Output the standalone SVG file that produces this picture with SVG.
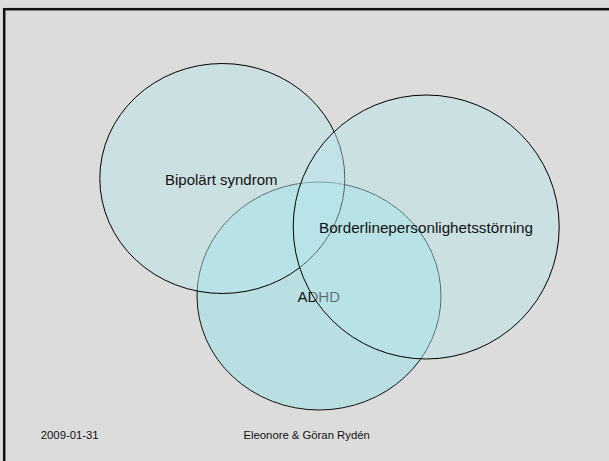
<svg xmlns="http://www.w3.org/2000/svg" width="609" height="461" viewBox="0 0 609 461">
<style>
  .lbl { font-family: "Liberation Sans", Arial, sans-serif; font-size: 15px; fill: #111; }
  .foot { font-family: "Liberation Sans", Arial, sans-serif; font-size: 11.3px; fill: #111; }
  .veil { fill: rgb(185,230,235); fill-opacity: 0.42; stroke: #000; stroke-width: 1; }
</style>
<defs>
  <pattern id="grid" width="3" height="3" patternUnits="userSpaceOnUse">
    <rect width="3" height="3" fill="rgb(185,230,235)" fill-opacity="0.4"/>
    <rect width="3" height="1" fill="rgb(175,225,232)" fill-opacity="0.15"/>
    <rect width="1" height="3" fill="rgb(175,225,232)" fill-opacity="0.15"/>
  </pattern>
</defs>
<rect x="0" y="0" width="609" height="461" fill="#dcdcdc"/>
<rect x="4.2" y="9.2" width="640" height="480" fill="none" stroke="#111" stroke-width="2.5"/>
<g id="adhd">
  <ellipse cx="319" cy="296" rx="122" ry="114" fill="#b9dfe2" stroke="#111" stroke-width="1"/>
  <text class="lbl" x="297.5" y="302">ADHD</text>
</g>
<g id="bipolart">
  <ellipse cx="222.3" cy="178.5" rx="122.5" ry="115" fill="url(#grid)" stroke="#000" stroke-width="1"/>
</g>
<g id="borderline">
  <ellipse cx="426.2" cy="227" rx="133" ry="132" fill="url(#grid)" stroke="#000" stroke-width="1"/>
</g>
<g id="labels">
  <text class="lbl" x="165" y="185">Bipolärt syndrom</text>
  <text class="lbl" x="319" y="233" textLength="214" lengthAdjust="spacingAndGlyphs">Borderlinepersonlighetsstörning</text>
</g>
<g id="connectors"/>
<g id="footer">
  <text class="foot" x="40.8" y="439">2009-01-31</text>
  <text class="foot" x="243.5" y="439">Eleonore &amp; Göran Rydén</text>
</g>
</svg>
